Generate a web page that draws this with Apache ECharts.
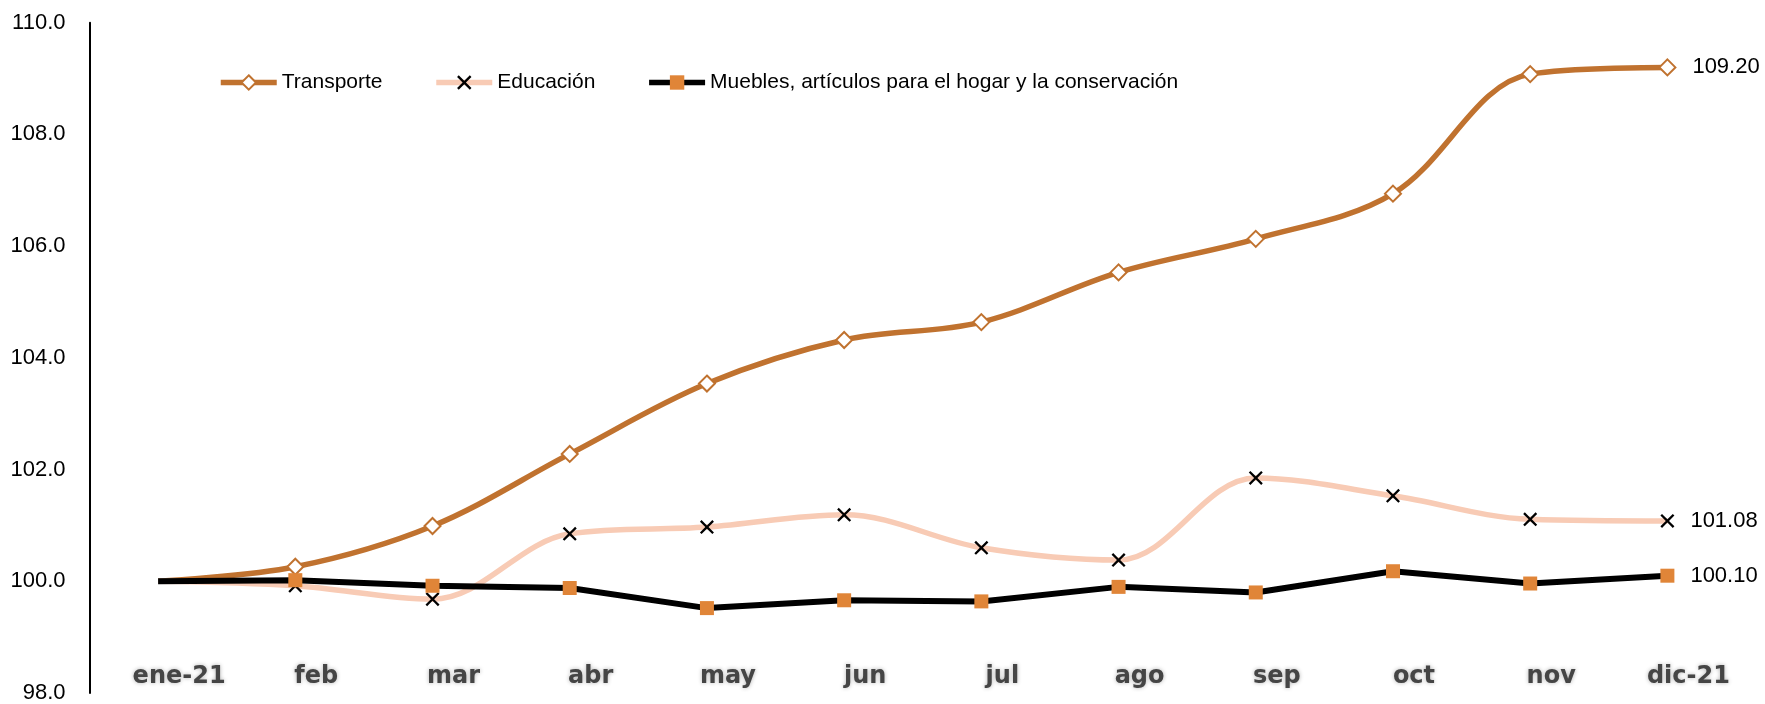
<!DOCTYPE html>
<html>
<head>
<meta charset="utf-8">
<script src="https://cdn.jsdelivr.net/npm/echarts@6/dist/echarts.min.js"></script>
<style>
  html, body { margin: 0; padding: 0; background: #fff; }
  #chart { width: 1765px; height: 704px; }
</style>
</head>
<body>
<div id="chart"></div>
<script>
const categories = ['ene-21', 'feb', 'mar', 'abr', 'may', 'jun', 'jul', 'ago', 'sep', 'oct', 'nov', 'dic-21'];
const transporte = [100.0, 100.26, 100.99, 102.28, 103.54, 104.32, 104.64, 105.53, 106.13, 106.94, 109.08, 109.20];
const educacion = [100.0, 99.92, 99.68, 100.85, 100.97, 101.19, 100.60, 100.38, 101.85, 101.53, 101.11, 101.08];
const muebles = [100.0, 100.02, 99.92, 99.88, 99.52, 99.66, 99.64, 99.90, 99.80, 100.18, 99.96, 100.10];
const seriesNames = ['Transporte', 'Educación', 'Muebles, artículos para el hogar y la conservación'];
const yTicks = { min: 98, max: 110, interval: 2 };

const NARROW = '"Liberation Sans Narrow", "Arial Narrow", "Liberation Sans", Arial, sans-serif';
const X_PATH = 'path://M0,2.3L2.3,0L10,7.7L17.7,0L20,2.3L12.3,10L20,17.7L17.7,20L10,12.3L2.3,20L0,17.7L7.7,10Z';

const colTrans = '#C0722F';
const colEduc = '#F8CBB5';
const colMueb = '#000000';
const colSquare = '#E08538';

function buildData(values) {
  const last = values.length - 1;
  return values.map((v, i) => {
    const item = { value: v };
    if (i === 0) item.symbol = 'none';
    if (i === last) {
      item.label = {
        show: true,
        position: 'right',
        distance: 16,
        formatter: (p) => p.value.toFixed(2),
        fontFamily: NARROW,
        fontSize: 22,
        color: '#000'
      };
    }
    return item;
  });
}

const chart = echarts.init(document.getElementById('chart'));
chart.setOption({
  animation: false,
  backgroundColor: '#fff',
  grid: { left: 89.5, right: 29, top: 22.7, bottom: 10.5, containLabel: false },
  legend: {
    left: 213,
    top: 67,
    itemWidth: 56,
    itemHeight: 18,
    itemGap: 51,
    textStyle: { fontFamily: NARROW, fontSize: 21, color: '#000' },
    data: [
      { name: seriesNames[0], lineStyle: { width: 5.5 } },
      { name: seriesNames[1], lineStyle: { width: 5.5 } },
      { name: seriesNames[2], lineStyle: { width: 5.5 } }
    ]
  },
  xAxis: {
    type: 'category',
    data: categories,
    boundaryGap: true,
    axisLine: { show: false },
    axisTick: { show: false },
    axisLabel: {
      margin: -28,
      padding: [0, 0, 0, 42],
      fontFamily: '"DejaVu Sans", Verdana, sans-serif',
      fontWeight: 'bold',
      fontSize: 24,
      color: '#454545',
      textShadowColor: 'rgba(0,0,0,0.3)',
      textShadowBlur: 4
    },
    splitLine: { show: false }
  },
  yAxis: {
    type: 'value',
    min: yTicks.min,
    max: yTicks.max,
    interval: yTicks.interval,
    axisLine: { show: true, lineStyle: { color: '#000', width: 2 } },
    axisTick: { show: false },
    splitLine: { show: false },
    axisLabel: {
      margin: 24,
      fontFamily: NARROW,
      fontSize: 22,
      color: '#000',
      formatter: (v) => v.toFixed(1)
    }
  },
  series: [
    {
      name: seriesNames[0],
      type: 'line',
      smooth: 0.35,
      data: buildData(transporte),
      symbol: 'diamond',
      symbolSize: 16,
      lineStyle: { color: colTrans, width: 5.5 },
      itemStyle: { color: '#fff', borderColor: colTrans, borderWidth: 2 }
    },
    {
      name: seriesNames[1],
      type: 'line',
      smooth: 0.35,
      data: buildData(educacion),
      symbol: X_PATH,
      symbolSize: 14,
      lineStyle: { color: colEduc, width: 5.5 },
      itemStyle: { color: '#000', borderWidth: 0 }
    },
    {
      name: seriesNames[2],
      type: 'line',
      smooth: false,
      data: buildData(muebles),
      symbol: 'rect',
      symbolSize: 14,
      lineStyle: { color: colMueb, width: 6 },
      itemStyle: { color: colSquare, borderWidth: 0 }
    }
  ]
});
</script>
</body>
</html>
